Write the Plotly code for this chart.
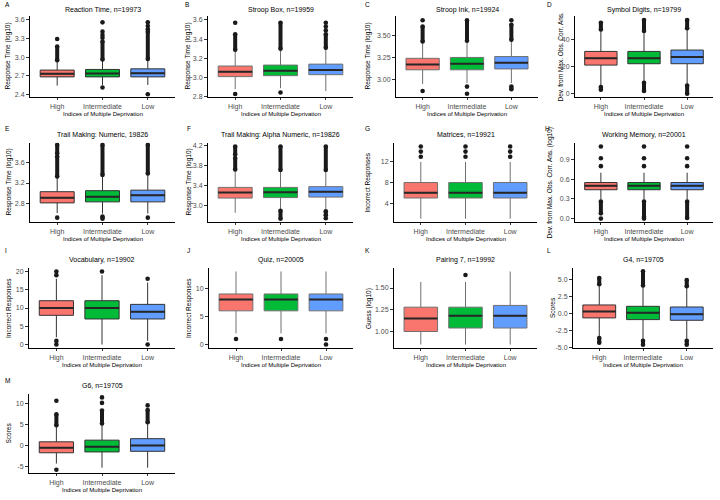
import plotly.graph_objects as go

W, H = 720, 500
GROUPS = ["High", "Intermediate", "Low"]
X_TITLE = "Indices of Multiple Deprivation"

# ---------------- data (lower whisker, q1, median, q3, upper whisker) per group
A_TITLE = "Reaction Time, n=19973"
A_YTITLE = "Response Time (log10)"
A_STATS = [[2.54, 2.68, 2.73, 2.79, 2.93], [2.55, 2.68, 2.735, 2.80, 2.94], [2.55, 2.68, 2.74, 2.81, 2.95]]
A_DOTS = [[3.29], [2.51, 3.31, 3.355, 3.41, 3.56], [2.40, 3.45, 3.50, 3.56]]
A_STREAKS = [[[2.95, 3.17]], [[2.96, 3.25]], [[2.97, 3.41]]]
A_TICKS = [2.4, 2.7, 3.0, 3.3, 3.6]
A_TICKTEXT = ["2.4", "2.7", "3.0", "3.3", "3.6"]

B_TITLE = "Stroop Box, n=19959"
B_YTITLE = "Response Time (log10)"
B_STATS = [[2.88, 3.01, 3.06, 3.12, 3.28], [2.89, 3.02, 3.07, 3.13, 3.29], [2.86, 3.03, 3.08, 3.14, 3.30]]
B_DOTS = [[2.83, 3.57], [2.845], [3.49, 3.53, 3.57]]
B_STREAKS = [[[3.29, 3.45]], [[3.30, 3.57]], [[3.31, 3.45]]]
B_TICKS = [2.8, 3.0, 3.2, 3.4, 3.6]
B_TICKTEXT = ["2.8", "3.0", "3.2", "3.4", "3.6"]

C_TITLE = "Stroop Ink, n=19924"
C_YTITLE = "Response Time (log10)"
C_STATS = [[2.95, 3.11, 3.17, 3.24, 3.42], [2.96, 3.11, 3.18, 3.25, 3.43], [2.96, 3.12, 3.19, 3.26, 3.44]]
C_DOTS = [[2.87, 3.67], [2.92, 2.84], [3.67]]
C_STREAKS = [[[3.43, 3.60]], [[3.44, 3.67]], [[3.45, 3.62], [2.89, 2.92]]]
C_TICKS = [3.00, 3.25, 3.50]
C_TICKTEXT = ["3.00", "3.25", "3.50"]

D_TITLE = "Symbol Digits, n=19799"
D_YTITLE = "Dev. from Max. Obs. Corr. Ans."
D_STATS = [[6, 21, 26, 31, 46], [9, 22, 26, 31, 45], [7, 22, 27, 32, 47]]
D_DOTS = [[], [], []]
D_STREAKS = [[[47, 52], [3, 5]], [[46, 54], [2, 8]], [[48, 54], [0, 6]]]
D_TICKS = [0, 20, 40]
D_TICKTEXT = ["0", "20", "40"]

E_TITLE = "Trail Making: Numeric, 19826"
E_YTITLE = "Response Time (log10)"
E_STATS = [[2.61, 2.81, 2.91, 3.03, 3.31], [2.60, 2.83, 2.93, 3.05, 3.35], [2.60, 2.83, 2.96, 3.06, 3.38]]
E_DOTS = [[2.52], [], [2.52]]
E_STREAKS = [[[3.33, 3.72], [3.78, 3.95]], [[3.36, 3.95], [2.50, 2.54]], [[3.39, 3.95]]]
E_TICKS = [2.8, 3.2, 3.6]
E_TICKTEXT = ["2.8", "3.2", "3.6"]

F_TITLE = "Trail Making: Alpha Numeric, n=19826"
F_YTITLE = "Response Time (log10)"
F_STATS = [[2.85, 3.145, 3.255, 3.36, 3.70], [2.92, 3.155, 3.26, 3.36, 3.70], [2.92, 3.165, 3.27, 3.375, 3.70]]
F_DOTS = [[], [], [2.74]]
F_STREAKS = [[[3.72, 3.95], [4.02, 4.18]], [[3.71, 4.18], [2.73, 2.89]], [[3.71, 4.18], [2.80, 2.88]]]
F_TICKS = [3.0, 3.4, 3.8, 4.2]
F_TICKTEXT = ["3.0", "3.4", "3.8", "4.2"]

G_TITLE = "Matrices, n=19921"
G_YTITLE = "Incorrect Responses"
G_STATS = [[1, 5, 6, 8, 12], [1, 5, 6, 8, 12], [1, 5, 6, 8, 12]]
G_DOTS = [[13, 14, 15], [13, 14, 15], [13, 14, 15]]
G_STREAKS = [[], [], []]
G_TICKS = [4, 8, 12]
G_TICKTEXT = ["4", "8", "12"]

H_TITLE = "Working Memory, n=20001"
H_YTITLE = "Dev. from Max. Obs. Corr. Ans. (log10)"
H_STATS = [[0.29, 0.44, 0.50, 0.55, 0.70], [0.29, 0.44, 0.50, 0.55, 0.70], [0.29, 0.44, 0.50, 0.55, 0.70]]
H_DOTS = [[0.0, 0.80, 0.92, 1.10], [0.0, 0.80, 0.92, 1.10], [0.80, 0.92, 1.10]]
H_STREAKS = [[[0.08, 0.26]], [[0.03, 0.26]], [[0.01, 0.26]]]
H_TICKS = [0.0, 0.3, 0.6, 0.9]
H_TICKTEXT = ["0.0", "0.3", "0.6", "0.9"]

I_TITLE = "Vocabulary, n=19902"
I_YTITLE = "Incorrect Responses"
I_STATS = [[2, 8, 10, 12, 18], [0, 7, 10, 12, 19], [1, 7, 9, 11, 17]]
I_DOTS = [[0, 1, 19, 20], [20], [0, 18]]
I_STREAKS = [[], [], []]
I_TICKS = [0, 5, 10, 15, 20]
I_TICKTEXT = ["0", "5", "10", "15", "20"]

J_TITLE = "Quiz, n=20005"
J_YTITLE = "Incorrect Responses"
J_STATS = [[2, 6, 8, 9, 13], [2, 6, 8, 9, 13], [2, 6, 8, 9, 13]]
J_DOTS = [[1], [1], [0, 1]]
J_STREAKS = [[], [], []]
J_TICKS = [0, 5, 10]
J_TICKTEXT = ["0", "5", "10"]

K_TITLE = "Pairing 7, n=19992"
K_YTITLE = "Guess (log10)"
K_STATS = [[0.85, 1.00, 1.15, 1.28, 1.57], [0.85, 1.04, 1.18, 1.28, 1.57], [0.85, 1.04, 1.18, 1.30, 1.69]]
K_DOTS = [[], [1.65], []]
K_STREAKS = [[], [], []]
K_TICKS = [1.00, 1.25, 1.50]
K_TICKTEXT = ["1.00", "1.25", "1.50"]

L_TITLE = "G4, n=19705"
L_YTITLE = "Scores"
L_STATS = [[-3.5, -0.65, 0.3, 1.25, 4.2], [-3.9, -0.9, 0.1, 1.05, 4.0], [-3.9, -1.0, -0.1, 0.95, 3.9]]
L_DOTS = [[], [], []]
L_STREAKS = [[[4.3, 5.2], [-4.3, -3.6]], [[4.1, 6.2], [-4.6, -4.0]], [[4.0, 4.9], [-4.6, -4.0]]]
L_TICKS = [-5.0, -2.5, 0.0, 2.5, 5.0]
L_TICKTEXT = ["-5.0", "-2.5", "0.0", "2.5", "5.0"]

M_TITLE = "G6, n=19705"
M_YTITLE = "Scores"
M_STATS = [[-4.2, -1.65, -0.45, 0.95, 4.7], [-5.2, -1.45, -0.2, 1.35, 5.2], [-5.2, -1.3, 0.1, 1.7, 5.5]]
M_DOTS = [[10.7, -5.7], [10.2, 11.5], [9.6]]
M_STREAKS = [[[4.9, 7.5]], [[5.3, 8.4]], [[5.6, 8.5]]]
M_TICKS = [-5, 0, 5, 10]
M_TICKTEXT = ["-5", "0", "5", "10"]

PANELS = [
    ("A", A_TITLE, A_YTITLE, A_STATS, A_DOTS, A_STREAKS, A_TICKS, A_TICKTEXT),
    ("B", B_TITLE, B_YTITLE, B_STATS, B_DOTS, B_STREAKS, B_TICKS, B_TICKTEXT),
    ("C", C_TITLE, C_YTITLE, C_STATS, C_DOTS, C_STREAKS, C_TICKS, C_TICKTEXT),
    ("D", D_TITLE, D_YTITLE, D_STATS, D_DOTS, D_STREAKS, D_TICKS, D_TICKTEXT),
    ("E", E_TITLE, E_YTITLE, E_STATS, E_DOTS, E_STREAKS, E_TICKS, E_TICKTEXT),
    ("F", F_TITLE, F_YTITLE, F_STATS, F_DOTS, F_STREAKS, F_TICKS, F_TICKTEXT),
    ("G", G_TITLE, G_YTITLE, G_STATS, G_DOTS, G_STREAKS, G_TICKS, G_TICKTEXT),
    ("H", H_TITLE, H_YTITLE, H_STATS, H_DOTS, H_STREAKS, H_TICKS, H_TICKTEXT),
    ("I", I_TITLE, I_YTITLE, I_STATS, I_DOTS, I_STREAKS, I_TICKS, I_TICKTEXT),
    ("J", J_TITLE, J_YTITLE, J_STATS, J_DOTS, J_STREAKS, J_TICKS, J_TICKTEXT),
    ("K", K_TITLE, K_YTITLE, K_STATS, K_DOTS, K_STREAKS, K_TICKS, K_TICKTEXT),
    ("L", L_TITLE, L_YTITLE, L_STATS, L_DOTS, L_STREAKS, L_TICKS, L_TICKTEXT),
    ("M", M_TITLE, M_YTITLE, M_STATS, M_DOTS, M_STREAKS, M_TICKS, M_TICKTEXT),
]

# ---------------- layout / style configuration (pixels)
FILLS = ["#F8766D", "#00BA38", "#619CFF"]
FONT = "Liberation Sans, Arial, sans-serif"
Y_RANGE = {
    "A": [2.352, 3.664], "B": [2.796, 3.641], "C": [2.80, 3.72], "D": [-2.5, 57],
    "E": [2.43, 3.99], "F": [2.66, 4.255], "G": [0.3, 15.7], "H": [-0.055, 1.155],
    "I": [-1.0, 21.0], "J": [-0.65, 13.65], "K": [0.808, 1.732], "L": [-5.1, 6.7],
    "M": [-6.5, 12.35],
}
PANEL_X = {
    "A": (30, 175), "B": (208, 353), "C": (396, 538), "D": (575, 713),
    "E": (30, 175), "F": (208, 353), "G": (394, 537), "H": (575, 713),
    "I": (29, 175), "J": (209, 353), "K": (394, 537), "L": (573, 713),
    "M": (29, 175),
}
ROW_OF = {"A": 0, "B": 0, "C": 0, "D": 0, "E": 1, "F": 1, "G": 1, "H": 1,
          "I": 2, "J": 2, "K": 2, "L": 2, "M": 3}
ROW_Y = [(15, 97), (143, 223), (269, 350), (396, 476)]
TITLE_Y = [9, 135, 261, 388]
LETTER_Y = [4, 129, 252, 383]
LETTER_X = {"A": 3, "B": 183, "C": 363, "D": 545, "E": 3, "F": 185, "G": 363, "H": 543,
            "I": 3, "J": 185, "K": 363, "L": 545, "M": 3}
YTITLE_X = {"A": 8, "B": 188, "C": 368, "D": 561, "E": 9, "F": 189, "G": 368, "H": 550,
            "I": 9, "J": 189, "K": 369, "L": 552, "M": 9}
GRAY_PANELS = {"B", "C", "F", "G", "J", "K"}
BOX_W = 0.75


def px(x):
    return x / W


def py(y):
    return 1 - y / H


fig = go.Figure()
layout = dict(
    width=W, height=H, margin=dict(l=0, r=0, t=0, b=0),
    paper_bgcolor="white", plot_bgcolor="white", showlegend=False,
    font=dict(family=FONT, color="black"), boxmode="overlay",
)
annotations = []

for k, (letter, title, ytitle, stats, dots, streaks, ticks, ticktext) in enumerate(PANELS, start=1):
    xname = "xaxis" if k == 1 else f"xaxis{k}"
    yname = "yaxis" if k == 1 else f"yaxis{k}"
    xr = "x" if k == 1 else f"x{k}"
    yr = "y" if k == 1 else f"y{k}"
    x0, x1 = PANEL_X[letter]
    row = ROW_OF[letter]
    top, bottom = ROW_Y[row]
    lc = "#707070" if letter in GRAY_PANELS else "#333333"

    for g, s in enumerate(stats):
        fig.add_trace(go.Box(
            x=[g + 1], lowerfence=[s[0]], q1=[s[1]], median=[s[2]], q3=[s[3]],
            upperfence=[s[4]], orientation="v", width=BOX_W, whiskerwidth=0,
            fillcolor=FILLS[g], line=dict(color=lc, width=1), boxpoints=False,
            xaxis=xr, yaxis=yr, hoverinfo="skip", showlegend=False,
        ))

    # thicker median lines
    mx, my = [], []
    for g, s in enumerate(stats):
        mx += [g + 1 - BOX_W / 2, g + 1 + BOX_W / 2, None]
        my += [s[2], s[2], None]
    fig.add_trace(go.Scatter(x=mx, y=my, mode="lines", line=dict(color="#262626", width=2),
                             xaxis=xr, yaxis=yr, hoverinfo="skip", showlegend=False))

    # outliers: single points and dense streaks of overlapping points
    ox, oy = [], []
    for g in range(3):
        for v in dots[g]:
            ox += [g + 1, None]
            oy += [v, None]
        for lo, hi in streaks[g]:
            ox += [g + 1, g + 1, None]
            oy += [lo, hi, None]
    fig.add_trace(go.Scatter(x=ox, y=oy, mode="lines+markers",
                             line=dict(color="#1a1a1a", width=4),
                             marker=dict(color="#1a1a1a", size=4.6),
                             xaxis=xr, yaxis=yr, hoverinfo="skip", showlegend=False))

    layout[xname] = dict(
        domain=[px(x0), px(x1)], anchor=yr, range=[0.4, 3.6],
        tickmode="array", tickvals=[1, 2, 3], ticktext=GROUPS,
        showline=True, linecolor="black", linewidth=1, mirror=False,
        ticks="outside", ticklen=2, tickwidth=1, tickcolor="#333333",
        tickfont=dict(size=7, color="#4D4D4D", family=FONT),
        showgrid=False, zeroline=False, fixedrange=True,
    )
    layout[yname] = dict(
        domain=[py(bottom), py(top)], anchor=xr, range=Y_RANGE[letter],
        tickmode="array", tickvals=ticks, ticktext=ticktext,
        showline=True, linecolor="black", linewidth=1,
        ticks="outside", ticklen=3, tickwidth=1, tickcolor="#333333",
        tickfont=dict(size=7, color="#4D4D4D", family=FONT),
        showgrid=False, zeroline=False, fixedrange=True,
    )

    cx = (x0 + x1) / 2
    annotations.append(dict(text=title, x=px(cx), y=py(TITLE_Y[row]), xref="paper", yref="paper",
                            xanchor="center", yanchor="middle", showarrow=False,
                            font=dict(size=7, color="black", family=FONT)))
    annotations.append(dict(text=X_TITLE, x=px(cx), y=py(bottom + 16.5), xref="paper", yref="paper",
                            xanchor="center", yanchor="middle", showarrow=False,
                            font=dict(size=6, color="black", family=FONT)))
    annotations.append(dict(text=ytitle, x=px(YTITLE_X[letter]), y=py((top + bottom) / 2),
                            xref="paper", yref="paper", xanchor="center", yanchor="middle",
                            textangle=-90, showarrow=False,
                            font=dict(size=6.5, color="black", family=FONT)))
    annotations.append(dict(text=letter, x=px(LETTER_X[letter]), y=py(LETTER_Y[row]),
                            xref="paper", yref="paper", xanchor="left", yanchor="middle",
                            showarrow=False, font=dict(size=6.5, color="black", family=FONT)))

layout["annotations"] = annotations
fig.update_layout(**layout)
fig.write_html("out.html", config={"displayModeBar": False},
               post_script="document.body.style.margin='0px';")
